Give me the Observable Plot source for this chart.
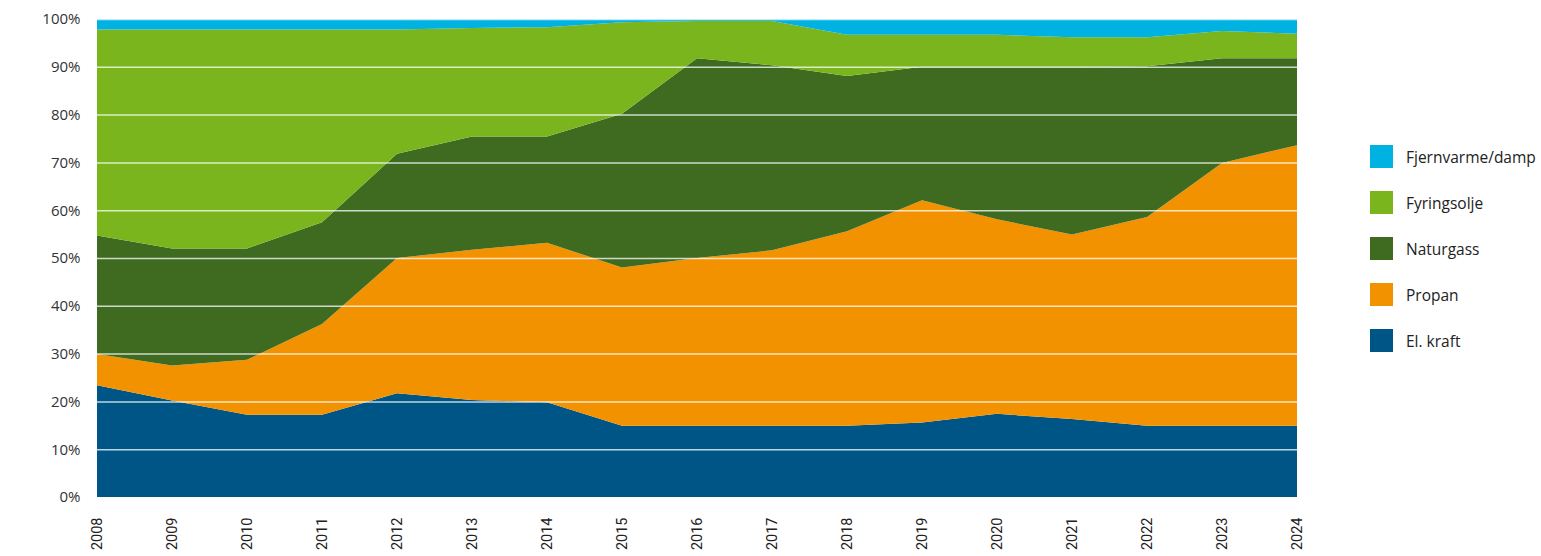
<!DOCTYPE html>
<html>
<head>
<meta charset="utf-8">
<script src="https://cdn.jsdelivr.net/npm/d3@7"></script>
<script src="https://cdn.jsdelivr.net/npm/@observablehq/plot@0.6"></script>
<style>
  html, body { margin: 0; padding: 0; background: #fff; }
  #wrap { position: relative; width: 1541px; height: 556px; }
  #legend { position: absolute; left: 1370px; top: 145px; font-family: "Open Sans", sans-serif; font-size: 15.5px; color: #222; }
  .item { display: flex; align-items: center; height: 23px; margin-bottom: 23px; }
  .sw { width: 23px; height: 23px; margin-right: 13px; }
</style>
</head>
<body>
<div id="wrap"><div id="chart"></div><div id="legend"></div></div>
<script>
const years = [2008,2009,2010,2011,2012,2013,2014,2015,2016,2017,2018,2019,2020,2021,2022,2023,2024];
const elKraft     = [23.4,20.2,17.2,17.2,21.7,20.3,19.8,14.9,14.9,14.9,14.9,15.6,17.4,16.3,14.9,14.9,14.9];
const propan      = [6.5,7.3,11.5,19.0,28.3,31.4,33.4,33.1,35.1,36.7,40.7,46.5,40.7,38.6,43.7,55.0,58.7];
const naturgass   = [24.8,24.5,23.3,21.3,21.8,23.7,22.2,32.2,41.8,38.7,32.5,27.9,31.9,35.1,31.5,21.9,18.2];
const fyringsolje = [43.1,45.8,45.8,40.3,26.0,22.7,22.9,19.1,7.8,9.3,8.6,6.7,6.7,6.2,6.1,5.7,5.1];
const fjernvarme  = [2.2,2.2,2.2,2.2,2.2,1.9,1.7,0.7,0.4,0.4,3.3,3.3,3.3,3.8,3.8,2.5,3.1];
const seriesNames = ["El. kraft","Propan","Naturgass","Fyringsolje","Fjernvarme/damp"];
const seriesColors = ["#005587","#f39200","#3f6b21","#7bb51e","#00b2e1"];
const legendOrder = ["Fjernvarme/damp","Fyringsolje","Naturgass","Propan","El. kraft"];
const yTicks = [0,10,20,30,40,50,60,70,80,90,100];

const seriesValues = [elKraft, propan, naturgass, fyringsolje, fjernvarme];
const data = [];
seriesNames.forEach((name, i) => {
  years.forEach((yr, j) => data.push({year: yr, series: name, value: seriesValues[i][j]}));
});

const chart = Plot.plot({
  width: 1541,
  height: 556,
  marginLeft: 97,
  marginRight: 244,
  marginTop: 19,
  marginBottom: 59,
  style: {fontFamily: "'Open Sans', sans-serif", fontSize: "15px", color: "#333", background: "white"},
  x: {domain: [2008, 2024], ticks: years, tickFormat: d => String(d), label: null},
  y: {domain: [0, 100], ticks: yTicks, tickFormat: d => d + "%", label: null},
  color: {domain: seriesNames, range: seriesColors},
  marks: [
    Plot.areaY(data, Plot.stackY({order: seriesNames}, {x: "year", y: "value", z: "series", fill: "series", curve: "linear"})),
    Plot.ruleY(yTicks.filter(d => d > 0), {stroke: "white", strokeOpacity: 0.75, strokeWidth: 1.5}),
    Plot.axisY({ticks: yTicks, tickFormat: d => d + "%", tickSize: 0, tickPadding: 17, fontSize: 15, fill: "#333", label: null}),
    Plot.axisX({ticks: years, tickFormat: d => String(d), tickSize: 0, tickPadding: 20, tickRotate: -90, fontSize: 14.5, fontFamily: "'Liberation Sans Narrow', 'Roboto', sans-serif", fill: "#222", label: null})
  ]
});
document.getElementById("chart").appendChild(chart);

const legend = document.getElementById("legend");
legendOrder.forEach(name => {
  const idx = seriesNames.indexOf(name);
  const it = document.createElement("div");
  it.className = "item";
  it.innerHTML = `<div class="sw" style="background:${seriesColors[idx]}"></div><span>${name}</span>`;
  legend.appendChild(it);
});
</script>
</body>
</html>
